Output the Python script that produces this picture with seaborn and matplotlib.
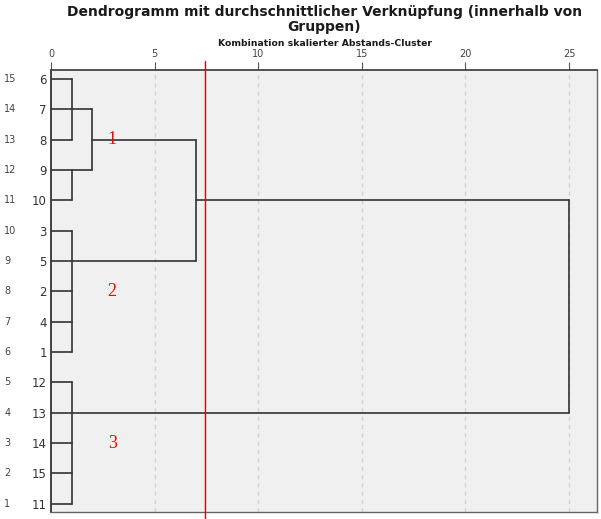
import pandas as pd
import numpy as np
import matplotlib
matplotlib.use("Agg")
import matplotlib.pyplot as plt
import matplotlib.transforms as mtransforms
import seaborn as sns


# leaves from top to bottom, with SPSS case numbers on the far left
leaf_labels = ["6", "7", "8", "9", "10", "3", "5", "2", "4", "1",
               "12", "13", "14", "15", "11"]
case_numbers = [15, 14, 13, 12, 11, 10, 9, 8, 7, 6, 5, 4, 3, 2, 1]

# merges: name, children (leaf rows or cluster names), distance, row of the node
merge_names = ["A", "B", "C", "D", "E", "F", "G"]
merge_children = [[0, 1, 2], [3, 4], ["A", "B"], [5, 6, 7, 8, 9],
                  ["C", "D"], [10, 11, 12, 13, 14], ["E", "F"]]
merge_dist = [1.0, 1.0, 2.0, 1.0, 7.0, 1.0, 25.0]
merge_row = [1, 3, 2, 6, 4, 11, 7.5]

cut_value = 7.43
group_names = ["1", "2", "3"]
group_x = [2.95, 2.95, 2.95]
group_row = [2, 7, 12]

ticks_x = [0, 5, 10, 15, 20, 25]


# build line segments from the merges
pos = {}
rows = []
seg = 0
for name, children, d, r in zip(merge_names, merge_children, merge_dist, merge_row):
    ys = []
    for c in children:
        if isinstance(c, str):
            cx, cy = pos[c]
        else:
            cx, cy = 0.0, c
        rows.append({"seg": seg, "x": cx, "y": cy})
        rows.append({"seg": seg, "x": d, "y": cy})
        seg += 1
        ys.append(cy)
    rows.append({"seg": seg, "x": d, "y": min(ys)})
    rows.append({"seg": seg, "x": d, "y": max(ys)})
    seg += 1
    pos[name] = (d, r)
segments = pd.DataFrame(rows)

sns.set_style("white", {"axes.facecolor": "#f0f0f0"})
plt.rcParams["font.family"] = ["DejaVu Sans"]

fig = plt.figure(figsize=(6.01, 5.19), dpi=100)
ax = fig.add_axes([0.0849, 0.0135, 0.9084, 0.8516])

# dashed grid lines
for t in ticks_x[1:]:
    ax.axvline(t, color="#d2d2d2", lw=1.0, ls=(0, (3, 3)), zorder=0)

sns.lineplot(data=segments, x="x", y="y", units="seg", estimator=None,
             sort=False, color="#333333", linewidth=1.2, ax=ax, legend=False)

ax.axvline(cut_value, ymin=-0.02, ymax=1.02, color="#e00000", lw=1.0,
           clip_on=False, zorder=5)

for g, gx, gr in zip(group_names, group_x, group_row):
    ax.text(gx, gr, g, color="red", fontsize=13, family="Liberation Serif",
            ha="center", va="center")

ax.set_xlim(0, 26.35)
ax.set_ylim(14.27, -0.3)
ax.set_xlabel("")
ax.set_ylabel("")

ax.xaxis.tick_top()
ax.set_xticks(ticks_x)
ax.set_xticklabels([str(t) for t in ticks_x])
ax.tick_params(axis="x", top=True, length=6, width=0.8, color="#555555",
               labelsize=7, labelcolor="#444444", pad=2)

ax.set_yticks(range(len(leaf_labels)))
ax.set_yticklabels(leaf_labels)
ax.tick_params(axis="y", left=False, length=0, labelsize=8.5,
               labelcolor="#333333", pad=3)

for side, col, lw in [("left", "#333333", 1.3), ("top", "#444444", 1.3),
                      ("right", "#666666", 1.0), ("bottom", "#666666", 1.0)]:
    ax.spines[side].set_visible(True)
    ax.spines[side].set_color(col)
    ax.spines[side].set_linewidth(lw)

trans = mtransforms.blended_transform_factory(fig.transFigure, ax.transData)
for i, n in enumerate(case_numbers):
    ax.text(0.007, i, str(n), transform=trans, fontsize=7, color="#444444",
            ha="left", va="center")

fig.text(0.54, 0.99, "Dendrogramm mit durchschnittlicher Verknüpfung (innerhalb von\nGruppen)",
         ha="center", va="top", fontsize=10, fontweight="bold",
         color="#1a1a1a", linespacing=1.1)
fig.text(0.54, 0.9114, "Kombination skalierter Abstands-Cluster", ha="center",
         va="baseline", fontsize=6.7, fontweight="bold", color="#1a1a1a")

fig.savefig("out.png", dpi=100)
